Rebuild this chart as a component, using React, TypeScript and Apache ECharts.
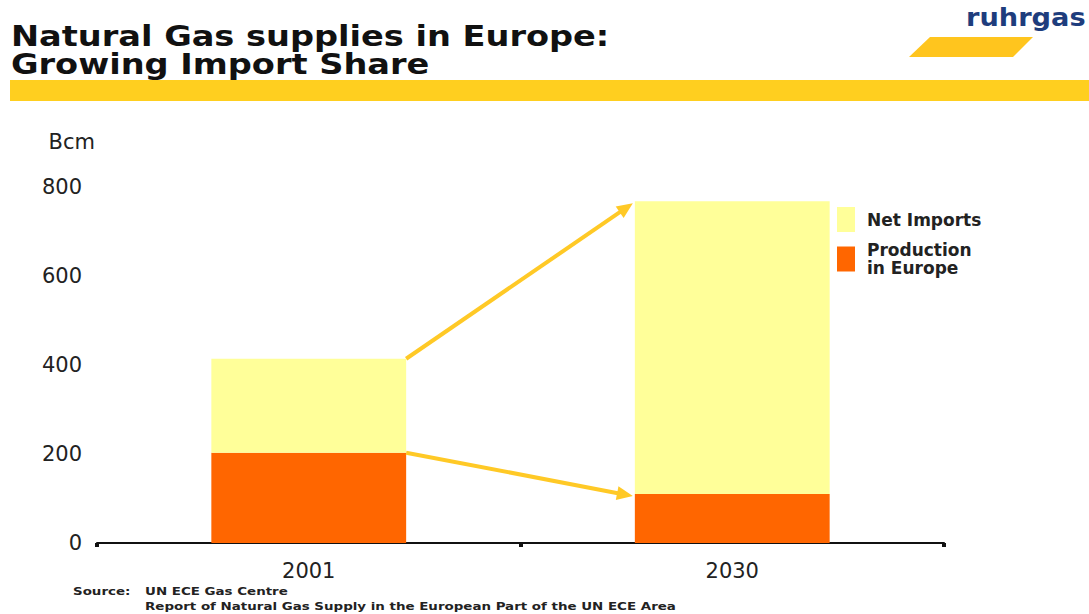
import React, { useEffect, useRef } from "react";
import * as echarts from "echarts";

const categories = ["2001", "2030"];
const production = [203, 110];
const netImports = [211, 658];
const seriesNames = ["Production\nin Europe", "Net Imports"];
const yMin = 0;
const yMax = 800;
const yInterval = 200;
const titleLines = ["Natural Gas supplies in Europe:", "Growing Import Share"];
const sourceLabel = "Source:";
const sourceLines = [
  "UN ECE Gas Centre",
  "Report of Natural Gas Supply in the European Part of the UN ECE Area",
];

const FONT = "DejaVu Sans";
const BAR_RATIO = 0.46;

export default function App() {
  const ref = useRef<HTMLDivElement>(null);
  useEffect(() => {
    if (!ref.current) return;
    const chart = echarts.init(ref.current, null, { renderer: "svg" });
    const arrows = [
      [0, production[0] + netImports[0], 1, production[1] + netImports[1]],
      [0, production[0], 1, production[1]],
    ];
    const smallText = (text: string, x: number, y: number) => ({
      type: "text",
      x,
      y,
      scaleX: 1.22,
      style: {
        text,
        fontFamily: FONT,
        fontWeight: "bold",
        fontSize: 11,
        fill: "#222222",
      },
    });
    const option: any = {
      animation: false,
      backgroundColor: "#ffffff",
      legend: {
        orient: "vertical",
        left: 832,
        top: 202,
        itemWidth: 18,
        itemHeight: 25,
        itemGap: 9,
        icon: "rect",
        selectedMode: false,
        data: ["Net Imports", "Production\nin Europe"],
        textStyle: {
          fontFamily: FONT,
          fontWeight: "bold",
          fontSize: 17,
          lineHeight: 18,
          color: "#222222",
          padding: [0, 0, 0, 7],
        },
      },
      grid: { left: 97, right: 145, top: 187, bottom: 71 },
      xAxis: {
        type: "category",
        data: categories,
        boundaryGap: true,
        axisLine: { show: true, lineStyle: { color: "#111111", width: 2 } },
        axisTick: { show: true, length: 4, lineStyle: { color: "#111111", width: 4 } },
        axisLabel: { fontFamily: FONT, fontSize: 21, color: "#222222", margin: 17 },
        splitLine: { show: false },
      },
      yAxis: {
        type: "value",
        min: yMin,
        max: yMax,
        interval: yInterval,
        name: "Bcm",
        nameLocation: "end",
        nameGap: 35,
        nameTextStyle: {
          fontFamily: FONT,
          fontSize: 21,
          color: "#222222",
          align: "right",
          padding: [0, 2, 0, 0],
        },
        axisLine: { show: false },
        axisTick: { show: false },
        splitLine: { show: false },
        axisLabel: { fontFamily: FONT, fontSize: 21, color: "#222222", margin: 15 },
      },
      series: [
        {
          name: seriesNames[0],
          type: "bar",
          stack: "total",
          barWidth: BAR_RATIO * 100 + "%",
          data: production,
          itemStyle: { color: "#FF6600" },
        },
        {
          name: seriesNames[1],
          type: "bar",
          stack: "total",
          barWidth: BAR_RATIO * 100 + "%",
          data: netImports,
          itemStyle: { color: "#FFFF99" },
        },
        {
          type: "custom",
          silent: true,
          z: 5,
          encode: { x: [0, 2], y: [1, 3] },
          data: arrows,
          renderItem: (params: any, api: any) => {
            const band = api.size([1, 0])[0];
            const half = (band * BAR_RATIO) / 2;
            const p0 = api.coord([api.value(0), api.value(1)]);
            const p1 = api.coord([api.value(2), api.value(3)]);
            const x0 = p0[0] + half;
            const y0 = p0[1];
            const x1 = p1[0] - half - 2;
            const y1 = p1[1] + 2;
            const dx = x1 - x0;
            const dy = y1 - y0;
            const len = Math.sqrt(dx * dx + dy * dy);
            const ux = dx / len;
            const uy = dy / len;
            const headLen = 16;
            const headW = 7;
            const bx = x1 - ux * headLen;
            const by = y1 - uy * headLen;
            const color = "#FFC926";
            return {
              type: "group",
              children: [
                {
                  type: "line",
                  shape: { x1: x0, y1: y0, x2: bx + ux * 2, y2: by + uy * 2 },
                  style: { stroke: color, lineWidth: 4 },
                },
                {
                  type: "polygon",
                  shape: {
                    points: [
                      [x1, y1],
                      [bx - uy * headW, by + ux * headW],
                      [bx + uy * headW, by - ux * headW],
                    ],
                  },
                  style: { fill: color },
                },
              ],
            };
          },
        },
      ],
      graphic: [
        {
          type: "text",
          x: 11,
          y: 50,
          scaleX: 1.2,
          style: {
            text: titleLines[0],
            fontFamily: FONT,
            fontWeight: "bold",
            fontSize: 28,
            lineHeight: 28,
            verticalAlign: "bottom",
            fill: "#111111",
          },
        },
        {
          type: "text",
          x: 11,
          y: 78,
          scaleX: 1.2,
          style: {
            text: titleLines[1],
            fontFamily: FONT,
            fontWeight: "bold",
            fontSize: 28,
            lineHeight: 28,
            verticalAlign: "bottom",
            fill: "#111111",
          },
        },
        {
          type: "rect",
          shape: { x: 10, y: 80, width: 1079, height: 21 },
          style: { fill: "#FFCF1F" },
          silent: true,
        },
        {
          type: "polygon",
          shape: { points: [[930, 37], [1033, 37], [1013, 57], [909, 57]] },
          style: { fill: "#FFC51E" },
          silent: true,
        },
        {
          type: "text",
          x: 966,
          y: 5,
          scaleX: 1.09,
          style: {
            text: "ruhrgas",
            fontFamily: FONT,
            fontWeight: "bold",
            fontSize: 25,
            fill: "#1E3D7D",
          },
          silent: true,
        },
        smallText(sourceLabel, 73, 586),
        smallText(sourceLines[0], 145, 586),
        smallText(sourceLines[1], 145, 601),
      ],
    };
    chart.setOption(option);
    return () => chart.dispose();
  }, []);
  return (
    <div
      ref={ref}
      style={{ position: "fixed", left: 0, top: 0, width: 1089, height: 614 }}
    />
  );
}
